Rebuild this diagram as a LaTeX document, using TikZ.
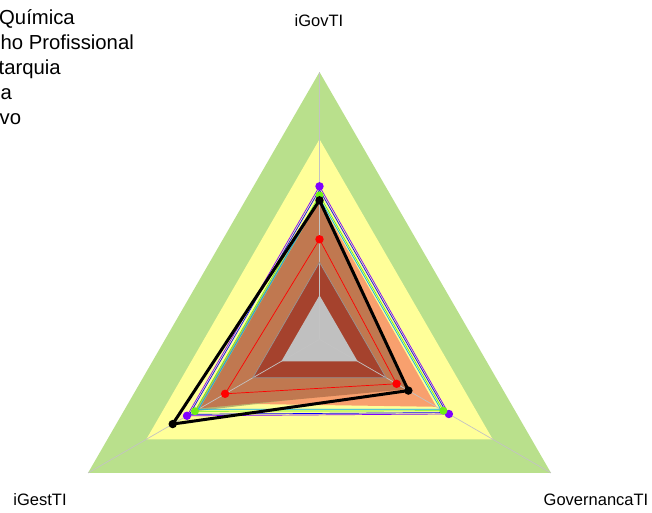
\documentclass[tikz,border=0pt]{standalone}
\usepackage{fontspec}
\setmainfont{Liberation Sans}
\definecolor{cgreen}{RGB}{185,224,140}
\definecolor{cyellow}{RGB}{255,255,153}
\definecolor{corange}{RGB}{248,160,110}
\definecolor{ckhaki}{RGB}{186,180,108}
\definecolor{cbrown}{RGB}{192,120,80}
\definecolor{cdbrown}{RGB}{165,66,45}
\definecolor{cgray}{RGB}{192,192,192}
\definecolor{cpurple}{RGB}{128,0,255}
\definecolor{clime}{RGB}{110,240,20}
\definecolor{cspoke}{RGB}{195,195,195}
\definecolor{cgrid}{RGB}{150,150,150}
\newcommand\radarfill[4]{\fill[#1] ([shift={(90:#2pt)}]C) -- ([shift={(210:#3pt)}]C) -- ([shift={(330:#4pt)}]C) -- cycle;}
\newcommand\radarline[4]{\draw[#1] ([shift={(90:#2pt)}]C) -- ([shift={(210:#3pt)}]C) -- ([shift={(330:#4pt)}]C) -- cycle;}
\newcommand\radardots[5]{\foreach \ang/\rad in {90/#2,210/#3,330/#4} \fill[#1] ([shift={(\ang:\rad pt)}]C) circle (#5);}
\tikzset{
  axislabel/.style={font=\fontsize{16.5}{19}\selectfont, inner sep=0pt},
  legendtext/.style={font=\fontsize{20.3}{24}\selectfont, anchor=base west, inner sep=0pt},
  spoke/.style={draw=cspoke, line width=0.7pt},
}
\begin{document}
\begin{tikzpicture}[x=1pt,y=1pt]
\useasboundingbox (0,0) rectangle (652,512);
\clip (0,0) rectangle (652,512);
\coordinate (C) at (319.5,172.7);
% filled level series
\radarfill{cgreen}{267.3}{267.3}{267.3}
\radarfill{cyellow}{200}{200}{200}
\radarfill{corange}{139}{128}{135}
\radarfill{ckhaki}{142}{144}{95}
\radarfill{cbrown}{139}{138}{100}
\radarfill{cdbrown}{77}{77}{77}
\radarfill{cgray}{44}{44}{44}
% spokes and gridline
\foreach \ang in {90,210,330} \draw[spoke] (C) -- ([shift={(\ang:267.3pt)}]C);
\radarline{cgrid, line width=0.7pt}{77}{77}{77}
% line series
\radarline{cpurple, line width=0.7pt}{153}{153}{149.4}
\radarline{blue, line width=0.7pt}{149.5}{150}{146.5}
\radarline{cyan, line width=0.7pt}{141}{140}{140}
\radarline{clime, line width=0.7pt}{144}{143.8}{143}
\radarline{red, line width=0.7pt}{100}{109}{89}
\radarline{black, line width=3pt, line join=round}{139}{169.5}{102.6}
\radardots{cpurple}{153}{153}{149.4}{4.2pt}
\radardots{clime}{144}{143.8}{143}{4pt}
\radardots{red}{100}{109}{89}{4.2pt}
\radardots{black}{139}{169.5}{102.6}{4.2pt}
% axis labels
\node[axislabel] (govti) at (319,491) {iGovTI};
\node[axislabel] (gestti) at (40,12) {iGestTI};
\node[axislabel] (governanca) at (596,12) {GovernancaTI};
% clipped legend
\node[legendtext] (leg1) at (-1,487) {Química};
\node[legendtext] (leg2) at (0.5,462) {ho Profissional};
\node[legendtext] (leg3) at (-1.5,437) {tarquia};
\node[legendtext] (leg4) at (0.5,412) {a};
\node[legendtext] (leg5) at (-0.5,387) {vo};
\end{tikzpicture}
\end{document}
